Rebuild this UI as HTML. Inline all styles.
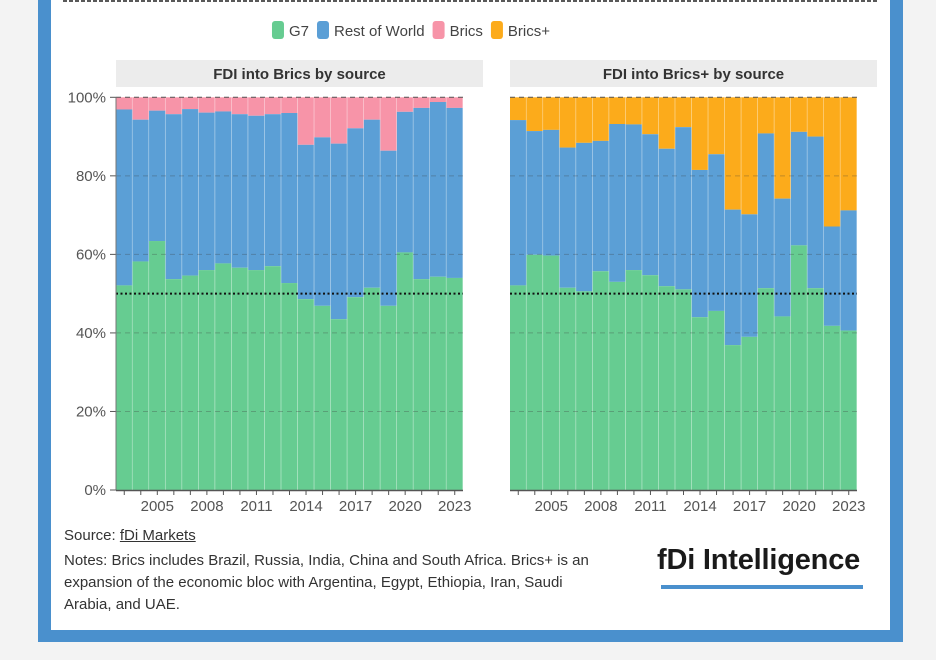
<!DOCTYPE html>
<html><head><meta charset="utf-8">
<style>
html,body{margin:0;padding:0;background:#f3f3f3;}
body{width:936px;height:660px;position:relative;overflow:hidden;font-family:"Liberation Sans",sans-serif;}
#frame{position:absolute;left:38px;top:-10px;width:865px;height:652px;background:#4a90cd;}
#inner{position:absolute;left:51px;top:-10px;width:839px;height:639.5px;background:#fff;}
.txt{position:absolute;color:#333;font-size:15px;white-space:nowrap;}
</style></head><body>
<div id="frame"></div>
<div id="inner"></div>
<svg id="chart" width="936" height="660" style="position:absolute;left:0;top:0"></svg>
<div class="txt" style="left:64px;top:527px">Source: <span style="text-decoration:underline">fDi Markets</span></div>
<div class="txt" style="left:64px;top:550px;line-height:22px">Notes: Brics includes Brazil, Russia, India, China and South Africa. Brics+ is an<br>expansion of the economic bloc with Argentina, Egypt, Ethiopia, Iran, Saudi<br>Arabia, and UAE.</div>
<div style="position:absolute;left:657px;top:544px;font-weight:bold;font-size:29px;color:#1a1a1a;letter-spacing:-0.2px">fDi Intelligence</div>
<div style="position:absolute;left:661px;top:585px;width:202px;height:4px;background:#4a90cd"></div>
<script>
const years=[2003,2004,2005,2006,2007,2008,2009,2010,2011,2012,2013,2014,2015,2016,2017,2018,2019,2020,2021,2022,2023];
const tickYears=[2005,2008,2011,2014,2017,2020,2023];
const yTicks=[0,20,40,60,80,100];
const bricsG7=[52.1,58.2,63.4,53.7,54.6,56.0,57.7,56.6,56.0,57.0,52.7,48.6,46.9,43.5,49.1,51.5,46.9,60.5,53.7,54.3,54.0];
const bricsRoW=[44.8,36.1,33.2,42.0,42.4,40.1,38.7,39.1,39.3,38.7,43.3,39.3,42.9,44.7,43.0,42.8,39.5,35.8,43.6,44.5,43.3];
const plusG7=[52.1,59.9,59.7,51.5,50.6,55.7,53.0,56.0,54.7,51.9,51.1,44.0,45.6,36.9,39.0,51.4,44.2,62.3,51.4,41.8,40.6];
const plusRoW=[42.1,31.5,32.0,35.7,37.8,33.2,40.2,37.1,35.9,35.0,41.3,37.5,39.9,34.5,31.2,39.4,30.0,28.9,38.6,25.3,30.6];
const C={g7:'#66cc91',row:'#5b9fd6',brics:'#f794a8',plus:'#fcab1b'};
const svg=document.getElementById('chart');
const NS='http://www.w3.org/2000/svg';
function el(t,a,p){const e=document.createElementNS(NS,t);for(const k in a)e.setAttribute(k,a[k]);(p||svg).appendChild(e);return e;}
const y0=490,y100=97.3;
function ys(v){return y0-(y0-y100)*v/100;}
let l=el('line',{x1:63,y1:1,x2:877,y2:1,stroke:'#222','stroke-width':1.5,'stroke-dasharray':'4,2'});

const leg=[['G7',C.g7],['Rest of World',C.row],['Brics',C.brics],['Brics+',C.plus]];
const lg=el('g',{});
let lx=0;
leg.forEach(d=>{
 const g=el('g',{},lg);
 
 
 el('rect',{x:lx,y:21,width:12,height:18,rx:3,fill:d[1]},g);
 const t=el('text',{x:lx+17,y:36,'font-size':15,fill:'#444'},g);t.textContent=d[0];
 lx+=17+t.getComputedTextLength()+8;
});
lx-=8;
lg.setAttribute('transform','translate('+(411-lx/2)+',0)');
function panel(x0,x1,title,g7,row,topColor,key){
 const g=el('g',{});
 const tb=el('rect',{x:x0,y:60,width:367,height:27,fill:'#ececec'},g);
 
 const tt=el('text',{x:x0+183.5,y:79,'text-anchor':'middle','font-size':15,'font-weight':'bold',fill:'#333'},g);tt.textContent=title;
 
 const n=years.length,bw=(x1-x0)/n;
 function xs(i){return x0+i*bw;}
 years.forEach((yr,i)=>{
  const bg=el('g',{},g);
  const a=g7[i],b=row[i];
  el('rect',{x:xs(i),y:ys(100),width:bw,height:ys(a+b)-ys(100),fill:topColor},bg);
  el('rect',{x:xs(i),y:ys(a+b),width:bw,height:ys(a)-ys(a+b),fill:C.row},bg);
  el('rect',{x:xs(i),y:ys(a),width:bw,height:y0-ys(a),fill:C.g7},bg);
  el('line',{x1:xs(i)+bw,y1:ys(100),x2:xs(i)+bw,y2:y0,stroke:'rgba(255,255,255,0.55)','stroke-width':1.2},bg);
 });
 yTicks.forEach(v=>{
  if(v>0){el('line',{x1:x0,y1:ys(v),x2:x1,y2:ys(v),stroke:v==100?'#555':'rgba(60,60,60,0.3)','stroke-width':1,'stroke-dasharray':'5,4'},g);}
  if(key=='brics'){
   el('line',{x1:x0-6,y1:ys(v),x2:x0,y2:ys(v),stroke:'#555'},g);
   const t=el('text',{x:x0-10,y:ys(v)+5,'text-anchor':'end','font-size':15,fill:'#555'},g);t.textContent=v+'%';
   
  }
 });
 const ml=el('line',{x1:x0,y1:ys(50),x2:x1,y2:ys(50),stroke:'#111','stroke-width':2,'stroke-dasharray':'2,2.5'},g);
 
 if(key=='brics')el('line',{x1:x0,y1:y100,x2:x0,y2:y0,stroke:'#777'},g);
 el('line',{x1:x0,y1:y0+0.5,x2:x1,y2:y0+0.5,stroke:'#555','stroke-width':1.5},g);
 years.forEach((yr,i)=>{
  const cx=xs(i)+bw/2;
  el('line',{x1:cx,y1:y0,x2:cx,y2:y0+5,stroke:'#555'},g);
  if(tickYears.indexOf(yr)>=0){const t=el('text',{x:cx,y:511,'text-anchor':'middle','font-size':15,fill:'#555'},g);t.textContent=yr;
   }
 });
}
panel(116,463,'FDI into Brics by source',bricsG7,bricsRoW,C.brics,'brics');
panel(510,857,'FDI into Brics+ by source',plusG7,plusRoW,C.plus,'brics-plus');
</script>
</body></html>
